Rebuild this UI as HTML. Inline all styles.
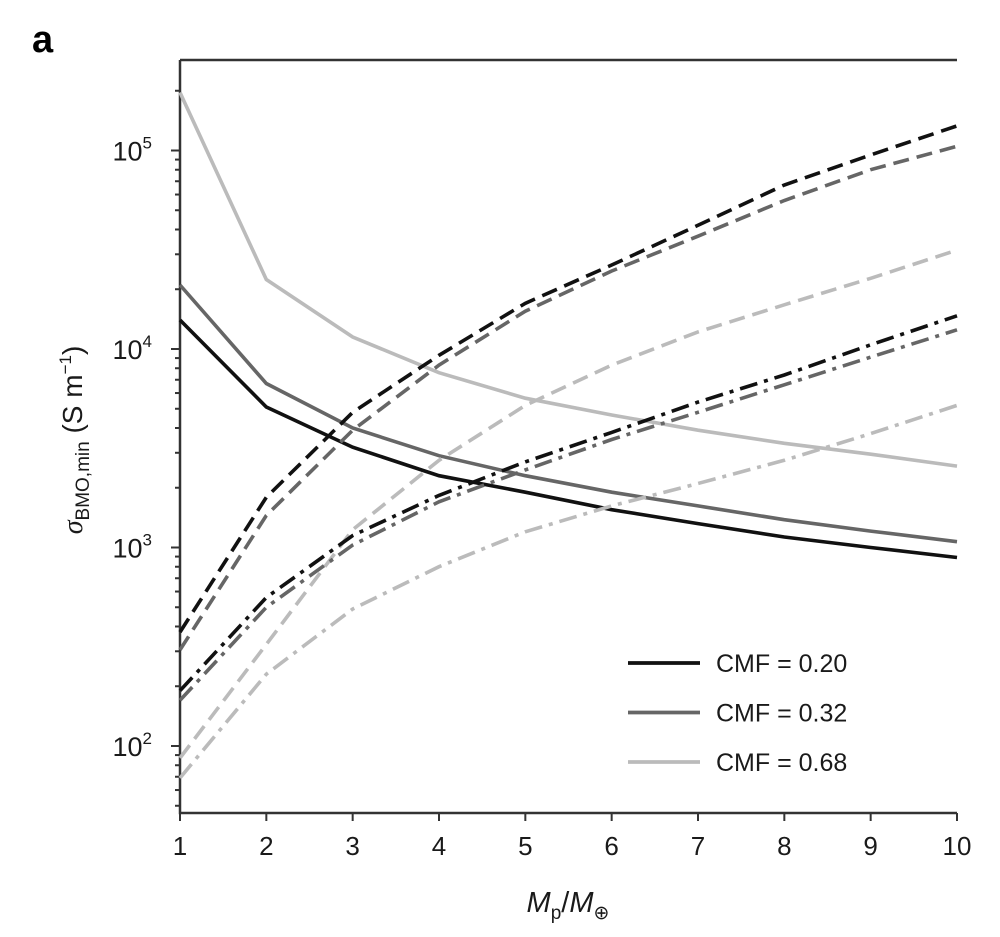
<!DOCTYPE html>
<html><head><meta charset="utf-8"><style>
body{margin:0;background:#fff;}
svg text{font-family:"Liberation Sans","DejaVu Sans",sans-serif;fill:#1a1a1a;}
</style></head><body>
<svg id="chart" width="1000" height="932" viewBox="0 0 1000 932" xmlns="http://www.w3.org/2000/svg">
<text x="32" y="52" font-size="38" font-weight="bold" style="fill:#000">a</text>
<g id="axes"></g>
<g id="series"></g>
<g id="legend"></g>
<text transform="translate(82,440) rotate(-90)" text-anchor="middle" font-size="28"><tspan font-style="italic" font-family="Liberation Serif,serif">σ</tspan><tspan font-size="19" dy="7">BMO,min</tspan><tspan dy="-7"> (S m</tspan><tspan font-size="17" dy="-11">−1</tspan><tspan dy="11">)</tspan></text>
<text x="568" y="912" text-anchor="middle" font-size="29"><tspan font-style="italic">M</tspan><tspan font-size="19" dy="7">p</tspan><tspan dy="-7">/</tspan><tspan font-style="italic">M</tspan><tspan font-size="19" dy="7">⊕</tspan></text>
</svg>
<script>
const xs = [1,2,3,4,5,6,7,8,9,10];
const solid020 = [14000,5100,3200,2300,1900,1550,1320,1130,1000,890];
const solid032 = [21000,6700,4000,2900,2300,1900,1620,1380,1210,1070];
const solid068 = [196000,22400,11500,7600,5650,4650,3900,3350,2950,2570];
const dash020 = [375,1790,4800,9300,17000,26500,42000,67000,95000,133000];
const dash032 = [305,1450,3900,8300,15500,24700,37000,56000,80000,105000];
const dash068 = [87,325,1230,2750,5200,8300,12200,16700,22700,31500];
const dashdot020 = [190,560,1150,1830,2700,3800,5400,7400,10500,14700];
const dashdot032 = [170,500,1030,1700,2460,3500,4800,6600,9100,12500];
const dashdot068 = [69,230,490,800,1200,1620,2100,2750,3750,5200];
const xTicks = [1,2,3,4,5,6,7,8,9,10];
const yMajor = [2,3,4,5];
const legendLabels = ["CMF = 0.20","CMF = 0.32","CMF = 0.68"];

const NS="http://www.w3.org/2000/svg";
const X0=180,X1=957,TOP=60,BOT=813;
function xScale(v){return X0+(v-1)*(X1-X0)/9;}
function yScale(v){return 746-(Math.log10(v)-2)*198.5;}
function mk(tag,attrs,parent){const e=document.createElementNS(NS,tag);for(const k in attrs)e.setAttribute(k,attrs[k]);parent.appendChild(e);return e;}
const axes=document.getElementById('axes');
const ax=mk('path',{d:`M${X0},${TOP}H${X1}M${X0},${TOP}V${BOT}H${X1}`,fill:'none',stroke:'#333','stroke-width':2.5},axes);


xTicks.forEach(t=>{
  const x=xScale(t);
  const l=mk('line',{x1:x,x2:x,y1:BOT,y2:BOT+8,stroke:'#333','stroke-width':2},axes);
  
  
  const tx=mk('text',{x:x,y:BOT+42,'text-anchor':'middle','font-size':26},axes);
  tx.textContent=t;
  
  
});
for(let d=1;d<=5;d++){
  for(let m=1;m<=9;m++){
    const v=Math.pow(10,d)*m;
    const y=yScale(v);
    if(y<TOP||y>BOT)continue;
    const l=mk('line',{x1:X0-(m===1?9:5),x2:X0,y1:y,y2:y,stroke:'#333','stroke-width':2},axes);
    
    
  }
}
yMajor.forEach(e=>{
  const y=yScale(Math.pow(10,e));
  const tx=mk('text',{x:152,y:y+10,'text-anchor':'end','font-size':27},axes);
  tx.textContent='10';
  const s=mk('tspan',{'font-size':17,dy:-12},tx);
  s.textContent=e;
  
  
});
const ser=document.getElementById('series');
const cols=['#111','#666','#bbb'];
const groups=[[solid020,solid032,solid068,'none','solid'],[dash020,dash032,dash068,'16 8','dashed'],[dashdot020,dashdot032,dashdot068,'18 7 4 7','dashdot']];
groups.forEach(g=>{
  for(let i=0;i<3;i++){
    const d=g[i].map((v,j)=>(j?'L':'M')+xScale(xs[j]).toFixed(1)+','+yScale(v).toFixed(1)).join('');
    const p=mk('path',{d:d,fill:'none',stroke:cols[i],'stroke-width':3.6,'stroke-dasharray':g[3]},ser);
    
    
  }
});
const lg=document.getElementById('legend');
legendLabels.forEach((t,i)=>{
  const y=663+i*49.5;
  const l=mk('line',{x1:628,x2:700,y1:y,y2:y,stroke:cols[i],'stroke-width':3.8},lg);
  
  
  const tx=mk('text',{x:716,y:y+9,'font-size':25},lg);
  tx.textContent=t;
  
  
});
</script>
</body></html>
